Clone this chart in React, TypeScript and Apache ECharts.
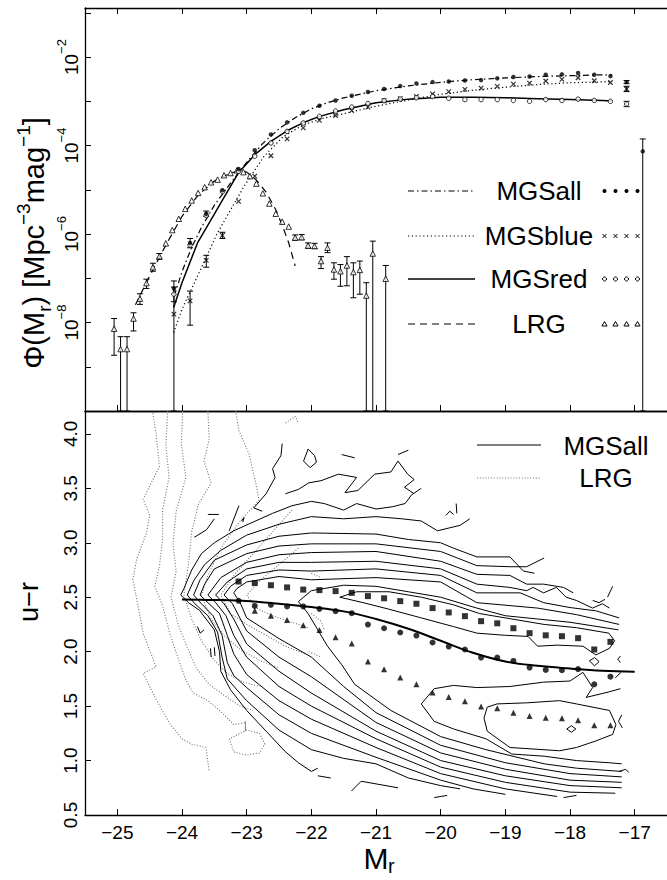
import React, { useEffect, useRef } from 'react';
import * as echarts from 'echarts';

const FONT = '"Liberation Sans", Arial, Helvetica, sans-serif';

// ---------------- Top panel: luminosity functions (log10 Phi) ----------------
const mgsMr = [-24.125,-23.875,-23.625,-23.375,-23.125,-22.875,-22.625,-22.375,-22.125,-21.875,-21.625,-21.375,-21.125,-20.875,-20.625,-20.375,-20.125,-19.875,-19.625,-19.375,-19.125,-18.875,-18.625,-18.375,-18.125,-17.875,-17.625,-17.375,-17.125];
const mgsAllLogPhi = [-7.23,-6.2,-5.54,-5.01,-4.53,-4.107,-3.75,-3.475,-3.26,-3.10,-2.98,-2.873,-2.79,-2.72,-2.655,-2.595,-2.565,-2.55,-2.528,-2.52,-2.48,-2.45,-2.44,-2.40,-2.39,-2.36,-2.40,-2.43,-2.565];
const mgsRedLogPhi = [-7.36,-6.25,-5.58,-5.04,-4.58,-4.24,-3.94,-3.68,-3.49,-3.34,-3.22,-3.13,-3.05,-2.985,-2.95,-2.92,-2.89,-2.93,-2.96,-2.96,-2.96,-2.98,-3.0,-2.96,-2.98,-2.95,-2.98,-3.0,-3.06];
const mgsBlueLogPhi = [-7.81,-7.51,-6.595,-6.03,-5.26,-4.69,-4.23,-3.85,-3.60,-3.43,-3.32,-3.21,-3.13,-2.985,-2.94,-2.89,-2.835,-2.78,-2.73,-2.70,-2.663,-2.61,-2.587,-2.54,-2.505,-2.467,-2.535,-2.573,-2.72];
const mgsAllFaintMr = [-16.875];
const mgsAllFaintLogPhi = [-4.13];

const lrgMr = [-25.05,-24.95,-24.85,-24.75,-24.65,-24.55,-24.45,-24.35,-24.25,-24.15,-24.05,-23.95,-23.85,-23.75,-23.65,-23.55,-23.45,-23.35,-23.25,-23.15,-23.05,-22.95,-22.85,-22.75,-22.65,-22.55,-22.45,-22.35,-22.25,-22.15,-22.05,-21.95,-21.85,-21.75,-21.65,-21.55,-21.45,-21.35,-21.25,-21.15,-21.05,-20.85];
const lrgLogPhi = [-8.14,-8.6,-8.6,-7.91,-7.46,-7.11,-6.75,-6.5,-6.21,-5.91,-5.655,-5.43,-5.24,-5.07,-4.94,-4.83,-4.77,-4.67,-4.62,-4.56,-4.60,-4.69,-4.86,-5.08,-5.31,-5.54,-5.72,-5.83,-6.08,-6.07,-6.26,-6.27,-6.61,-6.31,-6.80,-6.84,-6.71,-6.86,-6.81,-7.39,-6.44,-7.01];

// error bars: [Mr, low, high] in log10 Phi
const mgsAllErr = [[-24.125,-7.53,-7.06],[-23.875,-6.31,-6.10],[-23.625,-5.6,-5.48],[-17.125,-2.6,-2.53],[-16.875,-10,-3.85]];
const mgsRedErr = [[-24.125,-10,-7.2],[-17.125,-3.12,-3.0]];
const mgsBlueErr = [[-23.875,-8.06,-7.29],[-23.625,-6.75,-6.48],[-23.375,-6.1,-5.96],[-17.125,-2.78,-2.66]];
const lrgErr = [[-25.05,-8.74,-7.91],[-24.95,-10,-8.32],[-24.85,-10,-8.32],[-24.75,-8.19,-7.78],[-24.65,-7.59,-7.35],[-24.55,-7.23,-7.02],[-24.45,-6.84,-6.66],[-24.35,-6.57,-6.44],[-22.25,-6.14,-6.02],[-22.15,-6.13,-6.01],[-22.05,-6.32,-6.2],[-21.95,-6.33,-6.21],[-21.85,-6.78,-6.51],[-21.75,-6.42,-6.2],[-21.65,-7.02,-6.65],[-21.55,-7.18,-6.69],[-21.45,-7.17,-6.51],[-21.35,-7.44,-6.65],[-21.25,-7.36,-6.61],[-21.15,-10,-7.1],[-21.05,-10,-6.16],[-20.85,-10,-6.71]];

// fitted curves [Mr, log10 Phi]
const mgsAllFit = [[-24.12,-7.4],[-24.0,-6.85],[-23.85,-6.3],[-23.7,-5.85],[-23.5,-5.35],[-23.25,-4.85],[-23.0,-4.38],[-22.75,-3.95],[-22.5,-3.62],[-22.25,-3.37],[-22.0,-3.17],[-21.75,-3.03],[-21.5,-2.92],[-21.0,-2.76],[-20.5,-2.65],[-20.0,-2.57],[-19.5,-2.51],[-19.0,-2.47],[-18.5,-2.44],[-18.0,-2.42],[-17.5,-2.4],[-17.35,-2.4]];
const mgsRedFit = [[-24.13,-7.66],[-24.0,-7.1],[-23.76,-6.2],[-23.5,-5.55],[-23.37,-5.22],[-23.13,-4.62],[-22.87,-4.2],[-22.62,-3.9],[-22.37,-3.66],[-22.12,-3.48],[-21.87,-3.34],[-21.5,-3.19],[-21.0,-3.03],[-20.5,-2.95],[-20.0,-2.91],[-19.5,-2.91],[-19.0,-2.92],[-18.5,-2.94],[-18.0,-2.96],[-17.5,-2.98],[-17.35,-2.99]];
const mgsBlueFit = [[-24.13,-8.23],[-24.0,-7.7],[-23.76,-6.95],[-23.45,-5.97],[-23.04,-4.92],[-22.73,-4.24],[-22.43,-3.79],[-22.12,-3.53],[-21.81,-3.38],[-21.5,-3.28],[-21.0,-3.11],[-20.5,-2.97],[-20.0,-2.84],[-19.5,-2.75],[-19.0,-2.68],[-18.5,-2.62],[-18.0,-2.58],[-17.5,-2.56],[-17.35,-2.55]];
const lrgFit = [[-24.72,-7.6],[-24.5,-6.95],[-24.25,-6.25],[-24.0,-5.6],[-23.75,-5.12],[-23.5,-4.8],[-23.25,-4.62],[-23.1,-4.57],[-23.0,-4.6],[-22.85,-4.78],[-22.7,-5.05],[-22.55,-5.45],[-22.45,-5.8],[-22.35,-6.2],[-22.25,-6.72]];

// axis ticks
const xTicks = [-25,-24,-23,-22,-21,-20,-19,-18,-17];
const phiTicks = [-10,-9,-8,-7,-6,-5,-4,-3,-2,-1];
const phiLabels = [-8,-6,-4,-2];
const urTicks = [0.5,1.0,1.5,2.0,2.5,3.0,3.5,4.0];

// ---------------- Bottom panel: colour-magnitude ----------------
const colorBins = [-23.125,-22.875,-22.625,-22.375,-22.125,-21.875,-21.625,-21.375,-21.125,-20.875,-20.625,-20.375,-20.125,-19.875,-19.625,-19.375,-19.125,-18.875,-18.625,-18.375,-18.125,-17.875,-17.625,-17.375];
const redPeakUR = [2.644,2.63,2.61,2.59,2.57,2.565,2.556,2.54,2.51,2.49,2.464,2.44,2.40,2.36,2.326,2.28,2.26,2.215,2.17,2.15,2.142,2.124,2.02,2.09];
const meanUR = [2.467,2.42,2.43,2.415,2.415,2.393,2.372,2.353,2.249,2.215,2.176,2.148,2.084,2.047,2.02,1.946,1.946,1.915,1.854,1.832,1.83,1.84,1.70,1.77];
const bluePeakUR = [null,2.375,2.33,2.29,2.243,2.20,2.133,2.075,1.909,1.839,1.762,1.701,1.624,1.584,1.545,1.496,1.48,1.44,1.41,1.394,1.388,1.37,1.324,1.324];
const meanFit = [[-24.0,2.48],[-23.5,2.475],[-23.0,2.465],[-22.5,2.44],[-22.0,2.41],[-21.5,2.37],[-21.0,2.30],[-20.5,2.21],[-20.0,2.10],[-19.5,1.99],[-19.0,1.91],[-18.5,1.87],[-18.0,1.845],[-17.5,1.825],[-17.0,1.815]];

// MGSall density contours [Mr, u-r]
const mgsContours = [
  [[-20.3,3.50],[-20.45,3.44],[-20.55,3.36],[-20.75,3.33],[-21.0,3.31],[-21.3,3.36],[-21.5,3.30],[-21.8,3.36],[-22.0,3.38],[-22.3,3.34],[-22.6,3.27],[-22.9,3.19],[-23.2,3.11],[-23.5,3.0],[-23.7,2.9],[-23.85,2.75],[-23.97,2.58],[-24.02,2.52],[-23.9,2.45],[-23.73,2.38],[-23.5,2.2],[-23.42,2.0],[-23.4,1.82],[-23.25,1.65],[-23.0,1.46],[-22.7,1.27],[-22.4,1.08],[-22.2,0.98],[-22.0,0.9],[-21.9,0.93]],
  [[-19.55,3.22],[-19.7,3.16],[-20.05,3.11],[-20.3,3.2],[-20.6,3.22],[-21.0,3.24],[-21.5,3.22],[-22.0,3.24],[-22.5,3.17],[-23.0,3.07],[-23.4,2.93],[-23.65,2.8],[-23.82,2.65],[-23.92,2.52],[-23.8,2.44],[-23.6,2.33],[-23.45,2.18],[-23.38,1.95],[-23.3,1.75],[-23.0,1.55],[-22.5,1.28],[-22.0,1.1],[-21.5,1.02],[-21.0,0.97],[-20.5,0.84],[-20.0,0.77],[-19.7,0.74]],
  [[-18.55,2.72],[-18.72,2.74],[-18.93,2.87],[-19.44,2.87],[-19.8,2.95],[-20.0,3.0],[-20.5,3.03],[-21.0,3.08],[-22.0,3.09],[-22.5,3.06],[-23.0,2.98],[-23.5,2.84],[-23.72,2.66],[-23.82,2.52],[-23.7,2.44],[-23.52,2.33],[-23.38,2.15],[-23.3,1.9],[-23.2,1.78],[-23.0,1.67],[-22.5,1.42],[-22.0,1.25],[-21.0,1.03],[-20.0,0.82],[-19.5,0.74],[-19.0,0.69]],
  [[-18.4,2.86],[-18.67,2.78],[-18.93,2.78],[-19.44,2.79],[-20.0,2.92],[-21.0,2.99],[-22.0,2.99],[-22.5,2.97],[-23.0,2.9],[-23.5,2.76],[-23.65,2.62],[-23.72,2.52],[-23.6,2.45],[-23.42,2.35],[-23.3,2.15],[-23.2,1.98],[-23.0,1.79],[-22.5,1.55],[-22.0,1.38],[-21.0,1.12],[-20.0,0.88],[-19.0,0.74],[-18.2,0.67]],
  [[-17.95,2.54],[-18.1,2.59],[-18.41,2.62],[-18.67,2.62],[-18.93,2.70],[-19.44,2.71],[-20.0,2.83],[-21.0,2.92],[-22.0,2.91],[-22.5,2.89],[-23.0,2.82],[-23.4,2.68],[-23.6,2.52],[-23.48,2.45],[-23.32,2.33],[-23.2,2.15],[-23.0,1.95],[-22.5,1.68],[-22.0,1.50],[-21.0,1.20],[-20.0,0.94],[-19.0,0.80],[-18.0,0.71],[-17.3,0.70]],
  [[-17.39,2.40],[-17.5,2.44],[-17.65,2.40],[-17.9,2.47],[-18.06,2.5],[-18.21,2.59],[-18.41,2.54],[-18.57,2.59],[-18.67,2.56],[-18.93,2.59],[-19.44,2.62],[-20.0,2.76],[-21.0,2.83],[-22.0,2.82],[-22.5,2.82],[-23.0,2.76],[-23.3,2.64],[-23.48,2.52],[-23.35,2.44],[-23.2,2.3],[-23.0,2.07],[-22.5,1.82],[-22.0,1.62],[-21.0,1.27],[-20.0,1.0],[-19.0,0.86],[-18.0,0.77],[-17.2,0.75]],
  [[-17.24,2.31],[-17.6,2.375],[-18.0,2.405],[-18.41,2.45],[-18.77,2.54],[-19.44,2.54],[-20.0,2.70],[-21.0,2.76],[-22.0,2.74],[-22.5,2.75],[-23.0,2.70],[-23.25,2.6],[-23.35,2.52],[-23.22,2.44],[-23.0,2.19],[-22.5,1.95],[-22.0,1.77],[-21.0,1.35],[-20.0,1.07],[-19.0,0.92],[-18.0,0.82],[-17.2,0.80]],
  [[-17.24,2.25],[-17.9,2.34],[-18.5,2.40],[-19.44,2.45],[-20.0,2.64],[-21.0,2.68],[-22.0,2.66],[-22.5,2.69],[-23.0,2.64],[-23.15,2.58],[-23.2,2.54],[-23.1,2.45],[-23.0,2.31],[-22.5,2.12],[-22.0,1.95],[-21.5,1.68],[-21.0,1.44],[-20.0,1.14],[-19.0,0.98],[-18.0,0.88],[-17.2,0.85]],
  [[-17.25,2.20],[-18.0,2.27],[-19.0,2.33],[-19.44,2.40],[-20.0,2.50],[-20.5,2.55],[-21.0,2.60],[-21.5,2.61],[-22.0,2.56],[-22.2,2.46],[-22.05,2.35],[-21.9,2.2],[-21.75,2.05],[-21.53,1.88],[-21.33,1.70],[-20.77,1.46],[-20.0,1.22],[-19.3,1.10],[-18.4,0.97],[-17.9,0.93],[-17.2,0.90]],
  [[-21.56,2.50],[-21.3,2.55],[-20.8,2.55],[-20.3,2.50],[-19.8,2.43],[-19.4,2.35],[-18.9,2.30],[-18.4,2.25],[-17.9,2.22],[-17.4,2.17],[-17.31,2.10],[-17.39,2.03],[-17.6,1.97],[-17.8,2.05],[-18.2,2.06],[-18.5,2.05],[-18.65,2.14],[-19.0,2.15],[-19.44,2.17],[-19.8,2.23],[-20.3,2.31],[-20.8,2.39],[-21.2,2.45],[-21.56,2.50]],
  [[-17.22,1.66],[-17.4,1.63],[-17.75,1.58],[-17.65,1.67],[-17.8,1.81],[-18.0,1.73],[-18.41,1.72],[-18.93,1.68],[-19.44,1.67],[-19.8,1.69],[-20.1,1.66],[-20.3,1.52],[-20.1,1.36],[-19.8,1.29],[-19.3,1.20],[-18.9,1.06],[-18.4,1.04],[-17.9,1.0],[-17.4,0.98],[-17.2,0.97]],
  [[-19.28,1.49],[-19.13,1.52],[-18.67,1.53],[-18.16,1.55],[-17.9,1.52],[-17.39,1.46],[-17.29,1.33],[-17.34,1.24],[-17.6,1.18],[-17.9,1.12],[-18.16,1.09],[-18.93,1.12],[-19.28,1.27],[-19.33,1.39],[-19.28,1.49]],
  [[-22.45,3.91],[-22.47,3.80],[-22.6,3.68],[-22.56,3.60],[-22.7,3.45],[-22.89,3.32],[-22.76,3.29]],
  [[-22.05,3.86],[-21.95,3.80],[-21.92,3.74],[-22.02,3.69],[-22.12,3.75],[-22.05,3.86]],
  [[-22.4,3.45],[-22.2,3.49],[-22.04,3.55],[-21.85,3.57],[-21.58,3.63],[-21.3,3.6],[-21.48,3.46],[-21.28,3.48],[-21.02,3.63],[-20.77,3.65],[-20.66,3.75],[-20.51,3.63],[-20.41,3.58],[-20.56,3.51],[-20.41,3.45]],
  [[-21.53,3.81],[-21.33,3.78]],
  [[-20.66,3.81],[-20.5,3.85]],
  [[-19.92,3.25],[-19.86,3.29],[-19.8,3.26]],
  [[-19.76,3.36],[-19.75,3.27]],
  [[-23.81,3.05],[-23.62,3.12],[-23.5,3.22]],
  [[-23.6,3.26],[-23.43,3.26]],
  [[-23.27,3.11],[-23.12,3.34]],
  [[-23.08,3.2],[-23.04,3.23],[-23.06,3.19]],
  [[-23.76,2.23],[-23.72,2.17],[-23.66,2.2]],
  [[-23.56,2.03],[-23.55,1.95]],
  [[-23.5,2.04],[-23.49,1.96]],
  [[-21.38,0.72],[-21.23,0.81],[-20.66,0.75]],
  [[-21.9,0.86],[-21.7,0.84]],
  [[-20.1,0.66],[-19.9,0.68]],
  [[-18.1,0.66],[-17.9,0.68]],
  [[-17.24,0.90],[-17.14,0.92],[-17.09,0.89]],
  [[-17.42,2.5],[-17.34,2.6]],
  [[-17.65,2.47],[-17.55,2.45],[-17.46,2.48]],
  [[-17.22,1.96],[-17.26,1.93],[-17.22,1.9]],
  [[-17.3,1.76],[-17.21,1.81]],
  [[-17.2,1.42],[-17.25,1.36],[-17.19,1.3]],
  [[-17.70,1.915],[-17.62,1.946],[-17.55,1.909],[-17.62,1.87],[-17.70,1.915]],
  [[-18.05,1.29],[-17.98,1.32],[-17.91,1.29],[-17.98,1.26],[-18.05,1.29]],
];

// LRG density contours [Mr, u-r]
const lrgContours = [
  [[-24.45,4.19],[-24.4,4.0],[-24.35,3.70],[-24.6,3.40],[-24.5,3.25],[-24.55,3.09],[-24.7,2.85],[-24.76,2.66],[-24.7,2.48],[-24.6,2.17],[-24.4,1.86],[-24.6,1.80],[-24.4,1.56],[-24.19,1.34],[-24.0,1.2],[-23.85,1.15],[-23.63,1.12],[-23.58,0.9]],
  [[-24.22,4.21],[-24.25,3.9],[-24.2,3.6],[-24.3,3.3],[-24.3,3.03],[-24.35,2.78],[-24.42,2.6],[-24.3,2.42],[-24.19,2.17],[-24.09,1.99],[-23.94,1.74],[-23.83,1.62],[-23.6,1.55],[-23.4,1.45],[-23.2,1.33],[-23.0,1.35]],
  [[-23.99,4.21],[-24.01,3.91],[-23.94,3.6],[-24.09,3.29],[-24.14,2.99],[-24.09,2.74],[-24.17,2.5],[-24.06,2.25],[-23.94,2.07],[-23.78,1.85],[-23.58,1.70],[-23.35,1.6],[-23.1,1.5],[-22.9,1.46]],
  [[-23.6,4.21],[-23.58,3.95],[-23.66,3.75],[-23.55,3.55],[-23.75,3.35],[-23.85,3.1],[-23.9,2.8],[-23.97,2.52],[-23.85,2.3],[-23.7,2.1],[-23.5,1.92],[-23.3,1.8],[-23.05,1.72],[-22.8,1.68]],
  [[-23.17,4.21],[-23.12,4.03],[-22.96,3.81],[-22.86,3.55],[-22.81,3.39],[-23.1,3.2],[-23.4,2.95],[-23.6,2.7],[-23.7,2.52],[-23.55,2.3],[-23.35,2.15],[-23.1,2.02],[-22.8,1.92],[-22.5,1.85]],
  [[-22.3,3.3],[-22.6,3.1],[-22.9,2.9],[-23.2,2.7],[-23.4,2.52],[-23.25,2.35],[-23.0,2.25],[-22.7,2.15],[-22.4,2.05],[-22.1,1.98]],
  [[-22.2,2.95],[-22.5,2.8],[-22.8,2.65],[-23.0,2.52],[-22.85,2.4],[-22.6,2.33],[-22.3,2.27],[-22.05,2.22]],
  [[-23.27,1.2],[-23.2,1.08],[-23.0,1.05],[-22.8,1.07],[-22.72,1.15],[-22.8,1.25],[-23.0,1.28],[-23.27,1.2]],
  [[-22.4,4.1],[-22.25,4.16],[-22.2,4.1]],
  [[-22.0,2.72],[-21.85,2.68]],
  [[-22.0,2.35],[-21.85,2.28],[-21.8,2.2]],
  [[-22.04,2.0],[-21.85,1.95]],
];

const axisLine = { show: true, onZero: false, lineStyle: { color: '#000', width: 1.3 } };
const tickStyle = { color: '#000', width: 1 };

function xAxisDef(gridIndex: number, position: string, labels: boolean, ticks: boolean) {
  return {
    type: 'value', gridIndex, position, min: -25.5, max: -16.5,
    splitLine: { show: false }, axisLine,
    axisTick: { show: ticks, inside: true, length: 6, lineStyle: tickStyle, customValues: xTicks },
    axisLabel: {
      show: labels, customValues: xTicks, margin: 8, color: '#000', fontFamily: FONT, fontSize: 19, lineHeight: 18,
      formatter: (v: number) => (v < 0 ? '\u2212' + Math.abs(v) : String(v)),
    },
  };
}

function errSeries(data: number[][], width = 1) {
  return {
    type: 'custom', xAxisIndex: 0, yAxisIndex: 0, data, encode: { x: 0, y: [1, 2] }, z: 3,
    renderItem: (params: any, api: any) => {
      const x = api.value(0);
      const lo = api.coord([x, api.value(1)]);
      const hi = api.coord([x, api.value(2)]);
      const w = 3;
      const st = { stroke: '#000', lineWidth: width };
      return {
        type: 'group', children: [
          { type: 'line', shape: { x1: lo[0], y1: lo[1], x2: hi[0], y2: hi[1] }, style: st },
          { type: 'line', shape: { x1: hi[0] - w, y1: hi[1], x2: hi[0] + w, y2: hi[1] }, style: st },
          { type: 'line', shape: { x1: lo[0] - w, y1: lo[1], x2: lo[0] + w, y2: lo[1] }, style: st },
        ],
      };
    },
  };
}

const zip = (xs: number[], ys: (number | null)[]) => xs.map((x, i) => [x, ys[i]]).filter((p) => p[1] !== null);

function buildOption() {
  const series: any[] = [];
  const lineSeries = (data: any, type: any, width: number, xi: number, yi: number, color = '#000', smooth: any = false) => ({
    type: 'line', xAxisIndex: xi, yAxisIndex: yi, data, showSymbol: false, symbol: 'none', smooth,
    lineStyle: { color, width, type }, z: 2, silent: true,
  });
  // bottom contours
  lrgContours.forEach((c) => series.push(lineSeries(c, [1, 1.8], 1.1, 2, 1, '#6e6e6e')));
  series.push(lineSeries([[-23.02, 1.36], [-23.02, 1.27]], 'solid', 1, 2, 1, '#808080'));
  mgsContours.forEach((c) => series.push(lineSeries(c, 'solid', 1, 2, 1, '#000')));
  series.push({ ...lineSeries(meanFit, 'solid', 2, 2, 1, '#000', 0.4), z: 4 });
  const bMark = (data: any, symbol: string, size: number) => ({
    type: 'scatter', xAxisIndex: 2, yAxisIndex: 1, data, symbol, symbolSize: size, z: 5,
    itemStyle: { color: '#000' }, silent: true,
  });
  series.push(bMark(zip(colorBins, redPeakUR), 'rect', 6));
  series.push(bMark(zip(colorBins, meanUR), 'circle', 6));
  series.push(bMark(zip(colorBins, bluePeakUR), 'triangle', 6));

  // top panel fits
  series.push(lineSeries(mgsAllFit, [6, 3, 1.5, 3], 1.2, 0, 0));
  series.push(lineSeries(mgsBlueFit, [1.2, 2.6], 1.2, 0, 0));
  series.push(lineSeries(mgsRedFit, 'solid', 1.5, 0, 0));
  series.push(lineSeries(lrgFit, [7, 5], 1.2, 0, 0));
  // error bars
  series.push(errSeries(mgsAllErr));
  series.push(errSeries(mgsRedErr));
  series.push(errSeries(mgsBlueErr));
  series.push(errSeries(lrgErr));
  const tMark = (data: any, symbol: string, size: number, style: any) => ({
    type: 'scatter', xAxisIndex: 0, yAxisIndex: 0, data, symbol, symbolSize: size, z: 5, itemStyle: style, silent: true,
  });
  series.push(tMark(zip(lrgMr, lrgLogPhi), 'triangle', 5.5, { color: '#fff', borderColor: '#000', borderWidth: 1 }));
  series.push(tMark(zip(mgsMr, mgsBlueLogPhi), 'path://M0,0L10,10M10,0L0,10', 4.5, { color: 'transparent', borderColor: '#000', borderWidth: 1.2 }));
  series.push(tMark(zip(mgsMr, mgsRedLogPhi), 'circle', 4.5, { color: '#fff', borderColor: '#000', borderWidth: 1 }));
  series.push(tMark(zip(mgsMr, mgsAllLogPhi), 'circle', 4.5, { color: '#000' }));
  series.push(tMark(zip(mgsAllFaintMr, mgsAllFaintLogPhi), 'circle', 4.5, { color: '#000' }));

  // legends and titles
  const graphic: any[] = [];
  const legRows = [191, 236, 279, 324];
  const legDash: any[] = [[6, 3, 1.5, 3], [1.2, 2.6], null, [7, 5]];
  const legNames = ['MGSall', 'MGSblue', 'MGSred', 'LRG'];
  legRows.forEach((y, i) => {
    graphic.push({ type: 'line', shape: { x1: 408, y1: y, x2: 475, y2: y }, style: { stroke: '#000', lineWidth: i === 2 ? 1.5 : 1.2, lineDash: legDash[i] } });
    graphic.push({ type: 'text', x: 539, y: y, style: { text: legNames[i], font: `26px ${FONT}`, fill: '#000', align: 'center', verticalAlign: 'middle' } });
    [604.5, 615.5, 626.5, 637.5].forEach((sx) => {
      if (i === 0) graphic.push({ type: 'circle', shape: { cx: sx, cy: y, r: 2 }, style: { fill: '#000' } });
      if (i === 1) {
        graphic.push({ type: 'line', shape: { x1: sx - 2, y1: y - 2, x2: sx + 2, y2: y + 2 }, style: { stroke: '#000', lineWidth: 1 } });
        graphic.push({ type: 'line', shape: { x1: sx - 2, y1: y + 2, x2: sx + 2, y2: y - 2 }, style: { stroke: '#000', lineWidth: 1 } });
      }
      if (i === 2) graphic.push({ type: 'circle', shape: { cx: sx, cy: y, r: 2 }, style: { fill: '#fff', stroke: '#000', lineWidth: 1 } });
      if (i === 3) graphic.push({ type: 'polygon', shape: { points: [[sx, y - 2.5], [sx - 2.6, y + 2], [sx + 2.6, y + 2]] }, style: { fill: '#fff', stroke: '#000', lineWidth: 1 } });
    });
  });
  graphic.push({ type: 'line', shape: { x1: 477, y1: 445, x2: 541, y2: 445 }, style: { stroke: '#000', lineWidth: 1 } });
  graphic.push({ type: 'line', shape: { x1: 477, y1: 478, x2: 541, y2: 478 }, style: { stroke: '#6e6e6e', lineWidth: 1.1, lineDash: [1, 1.8] } });
  graphic.push({ type: 'text', x: 606, y: 446, style: { text: 'MGSall', font: `26px ${FONT}`, fill: '#000', align: 'center', verticalAlign: 'middle' } });
  graphic.push({ type: 'text', x: 606, y: 478, style: { text: 'LRG', font: `26px ${FONT}`, fill: '#000', align: 'center', verticalAlign: 'middle' } });
  // y titles
  graphic.push({
    type: 'text', x: 34, y: 243, rotation: Math.PI / 2,
    style: {
      text: '{n|\u03A6(M}{sub|r}{n|) [Mpc}{sup|\u22123}{n|mag}{sup|\u22121}{n|]}',
      align: 'center', verticalAlign: 'middle', fill: '#000',
      rich: {
        n: { fontSize: 29, fontFamily: FONT, lineHeight: 40, verticalAlign: 'middle', fill: '#000' },
        sub: { fontSize: 19, fontFamily: FONT, lineHeight: 40, verticalAlign: 'bottom', fill: '#000' },
        sup: { fontSize: 19, fontFamily: FONT, lineHeight: 40, verticalAlign: 'top', fill: '#000' },
      },
    },
  });
  graphic.push({ type: 'text', x: 29, y: 602, rotation: Math.PI / 2, style: { text: 'u\u2212r', font: `27px ${FONT}`, fill: '#000', align: 'center', verticalAlign: 'middle' } });
  graphic.push({ type: 'text', x: 376, y: 858, style: { text: 'M', font: `30px ${FONT}`, lineHeight: 22, fill: '#000', align: 'center', verticalAlign: 'middle' } });
  graphic.push({ type: 'text', x: 388, y: 866, style: { text: 'r', font: `20px ${FONT}`, lineHeight: 14, fill: '#000', align: 'left', verticalAlign: 'middle' } });

  return {
    animation: false,
    backgroundColor: '#fff',
    grid: [
      { left: 85, top: 8, width: 587, height: 403 },
      { left: 85, top: 411, width: 587, height: 404 },
    ],
    xAxis: [
      xAxisDef(0, 'bottom', false, true),
      xAxisDef(0, 'top', false, true),
      xAxisDef(1, 'bottom', true, true),
      xAxisDef(1, 'top', false, false),
    ],
    yAxis: [
      {
        type: 'value', gridIndex: 0, min: -10, max: -0.89, splitLine: { show: false }, axisLine,
        axisTick: { show: true, inside: true, length: 6, lineStyle: tickStyle, customValues: phiTicks },
        axisLabel: {
          customValues: phiLabels, rotate: 90, margin: 4, color: '#000',
          formatter: (v: number) => `{a|10}{b|\u2212${Math.abs(v)}}`,
          rich: {
            a: { fontSize: 19, fontFamily: FONT, lineHeight: 26, verticalAlign: 'bottom', color: '#000' },
            b: { fontSize: 13, fontFamily: FONT, lineHeight: 26, verticalAlign: 'top', color: '#000' },
          },
        },
      },
      {
        type: 'value', gridIndex: 1, min: 0.5, max: 4.21, splitLine: { show: false }, axisLine,
        axisTick: { show: true, inside: true, length: 6, lineStyle: tickStyle, customValues: urTicks },
        axisLabel: {
          customValues: urTicks, rotate: 90, margin: 5, color: '#000', fontFamily: FONT, fontSize: 19,
          formatter: (v: number) => v.toFixed(1),
        },
      },
    ],
    series,
    graphic,
  };
}

export default function App() {
  const ref = useRef<HTMLDivElement>(null);
  useEffect(() => {
    const chart = echarts.init(ref.current as HTMLDivElement, null, { renderer: 'svg' });
    chart.setOption(buildOption() as any);
    return () => chart.dispose();
  }, []);
  return <div ref={ref} style={{ position: 'absolute', left: 0, top: 0, width: 667, height: 880, background: '#fff' }} />;
}
